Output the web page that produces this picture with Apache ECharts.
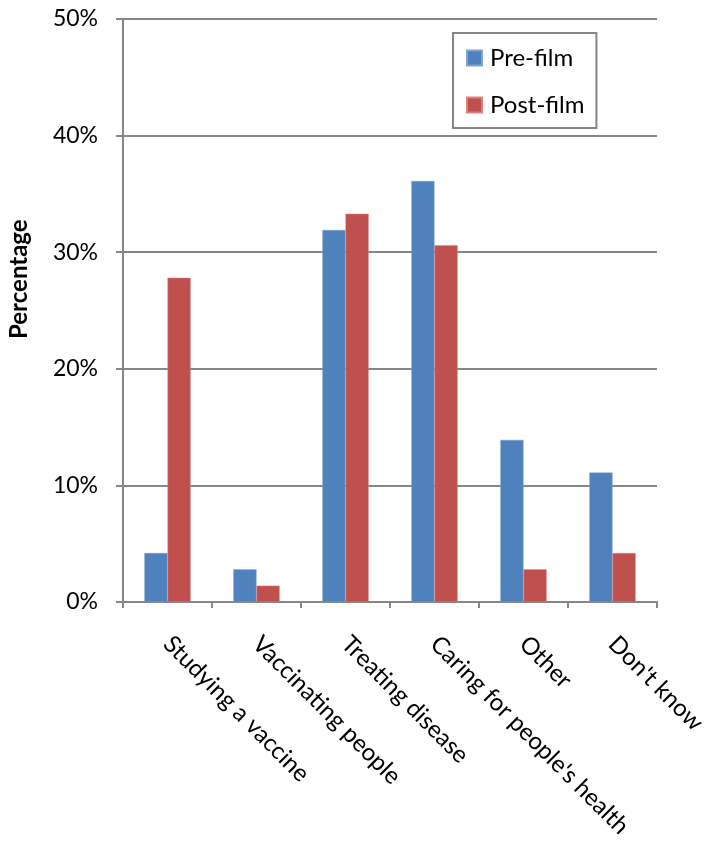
<!DOCTYPE html>
<html>
<head>
<meta charset="utf-8">
<script src="https://cdn.jsdelivr.net/npm/echarts@6/dist/echarts.min.js"></script>
<style>html,body{margin:0;padding:0;background:#fff;}#chart{width:705px;height:845px;}</style>
</head>
<body>
<div id="chart"></div>
<script>
const categories = ["Studying a vaccine", "Vaccinating people", "Treating disease", "Caring for people's health", "Other", "Don't know"];
const preFilm = [4.2, 2.8, 31.9, 36.1, 13.9, 11.1];
const postFilm = [27.8, 1.4, 33.3, 30.6, 2.8, 4.2];
const seriesNames = ["Pre-film", "Post-film"];
const yAxisTitle = "Percentage";

const FONT = "Lato";
const GRAY = "#868686";
const chart = echarts.init(document.getElementById('chart'), null, {renderer: 'canvas'});
chart.setOption({
  animation: false,
  backgroundColor: '#fff',
  textStyle: {fontFamily: FONT},
  grid: {left: 123, right: 48, top: 19, bottom: 243, containLabel: false, outerBoundsMode: 'none'},
  legend: {
    orient: 'vertical',
    left: 453, top: 33,
    padding: [13, 12, 11, 13],
    itemGap: 23,
    itemWidth: 15, itemHeight: 15,
    icon: 'rect',
    borderColor: GRAY, borderWidth: 2,
    textStyle: {fontFamily: FONT, fontSize: 24, color: '#000', padding: [0, 0, 0, 3]},
    data: seriesNames
  },
  graphic: [{
    type: 'text',
    rotation: Math.PI / 2,
    x: 7, y: 339,
    style: {text: yAxisTitle, font: 'bold 24px ' + FONT, fill: '#000'}
  }],
  xAxis: {
    type: 'category',
    data: categories,
    boundaryGap: true,
    axisLine: {lineStyle: {color: GRAY, width: 2}},
    axisTick: {show: true, length: 6, lineStyle: {color: GRAY, width: 2}},
    axisLabel: {rotate: -45, fontSize: 24, color: '#000', fontFamily: FONT, margin: 38, interval: 0}
  },
  yAxis: {
    type: 'value',
    min: 0, max: 50, interval: 10,
    axisLine: {show: true, lineStyle: {color: GRAY, width: 2}},
    axisTick: {show: true, length: 7, lineStyle: {color: GRAY, width: 2}},
    splitLine: {show: true, lineStyle: {color: GRAY, width: 2}},
    axisLabel: {formatter: '{value}%', fontSize: 23, color: '#000', fontFamily: FONT, margin: 25}
  },
  series: [
    {name: seriesNames[0], type: 'bar', data: preFilm, barGap: '0%', barCategoryGap: '48%',
     itemStyle: {color: '#4F81BD', borderColor: '#7FA3D0', borderWidth: 0.5}},
    {name: seriesNames[1], type: 'bar', data: postFilm, barGap: '0%', barCategoryGap: '48%',
     itemStyle: {color: '#C0504D', borderColor: '#D8827F', borderWidth: 0.5}}
  ]
});
</script>
</body>
</html>
